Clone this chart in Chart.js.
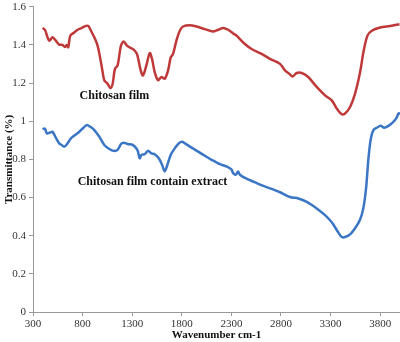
<!DOCTYPE html>
<html>
<head>
<meta charset="utf-8">
<script src="https://cdn.jsdelivr.net/npm/chart.js@4"></script>
<style>
  html, body { margin: 0; padding: 0; background: #fff; }
  #wrap { width: 400px; height: 342px; }
</style>
</head>
<body>
<div id="wrap"><canvas id="ftirChart" width="400" height="342"></canvas></div>
<script>
// Tick labels
const xTicks = [300, 800, 1300, 1800, 2300, 2800, 3300, 3800];
const yTicks = [0, 0.2, 0.4, 0.6, 0.8, 1, 1.2, 1.4, 1.6];

// Chitosan film (red)
const filmWave = [396, 420, 463, 497, 530, 565, 598, 621, 641, 655, 676, 716, 750, 790, 833, 857, 884, 918, 951, 979,
  1002, 1019, 1052, 1080, 1103, 1126, 1153, 1187, 1214, 1247, 1272, 1315, 1348, 1386, 1409, 1443, 1477, 1500, 1527, 1561,
  1595, 1628, 1662, 1689, 1712, 1746, 1780, 1813, 1881, 1948, 2032, 2116, 2167, 2217, 2267, 2328, 2352, 2436, 2504, 2605,
  2689, 2790, 2840, 2884, 2918, 2958, 3009, 3075, 3160, 3244, 3312, 3362, 3413, 3446, 3497, 3547, 3598, 3631, 3672, 3716,
  3800, 3901, 3995];
const filmT = [1.489, 1.48, 1.423, 1.44, 1.423, 1.402, 1.40, 1.39, 1.40, 1.388, 1.449, 1.466, 1.48, 1.489, 1.50, 1.50, 1.475, 1.44, 1.397, 1.327,
  1.258, 1.215, 1.197, 1.174, 1.197, 1.275, 1.293, 1.397, 1.418, 1.397, 1.388, 1.376, 1.353, 1.267, 1.24, 1.293, 1.358, 1.327, 1.258, 1.215,
  1.232, 1.223, 1.267, 1.336, 1.353, 1.423, 1.475, 1.497, 1.504, 1.497, 1.483, 1.471, 1.48, 1.489, 1.48, 1.457, 1.449, 1.405, 1.379, 1.353,
  1.327, 1.301, 1.267, 1.249, 1.235, 1.253, 1.253, 1.232, 1.18, 1.136, 1.11, 1.067, 1.037, 1.041, 1.075, 1.145, 1.258, 1.362, 1.449, 1.475,
  1.492, 1.50, 1.509];

// Chitosan film contain extract (blue)
const extractWave = [396, 420, 440, 474, 497, 530, 565, 588, 615, 648, 682, 732, 767, 800, 843, 878, 918, 969, 1019, 1070,
  1113, 1153, 1187, 1214, 1254, 1305, 1352, 1376, 1393, 1426, 1460, 1494, 1527, 1568, 1601, 1628, 1655, 1689, 1729, 1770,
  1803, 1847, 1898, 1965, 2032, 2100, 2184, 2251, 2302, 2318, 2345, 2368, 2386, 2453, 2554, 2655, 2790, 2891, 2975, 3060,
  3160, 3244, 3288, 3328, 3379, 3413, 3446, 3497, 3547, 3598, 3631, 3658, 3682, 3706, 3732, 3766, 3806, 3840, 3884, 3928,
  3962, 3985, 4000];
const extractT = [0.959, 0.962, 0.936, 0.942, 0.945, 0.914, 0.884, 0.876, 0.867, 0.884, 0.91, 0.931, 0.945, 0.962, 0.98, 0.971, 0.954, 0.919, 0.876, 0.855,
  0.845, 0.85, 0.881, 0.888, 0.881, 0.876, 0.85, 0.806, 0.824, 0.827, 0.845, 0.832, 0.827, 0.806, 0.772, 0.737, 0.772, 0.824, 0.858, 0.884,
  0.893, 0.879, 0.862, 0.841, 0.819, 0.798, 0.775, 0.763, 0.746, 0.728, 0.72, 0.737, 0.72, 0.699, 0.676, 0.655, 0.628, 0.603, 0.595, 0.577,
  0.543, 0.508, 0.485, 0.459, 0.416, 0.393, 0.393, 0.407, 0.439, 0.485, 0.546, 0.65, 0.806, 0.91, 0.954, 0.966, 0.976, 0.966, 0.976, 0.994,
  1.015, 1.041, 1.041];

function toPoints(xs, ys) {
    return xs.map((x, i) => ({ x: x, y: ys[i] }));
}

const serif = '"Liberation Serif", "Times New Roman", serif';

// Curve labels, placed in data units
const curveLabels = [
    { text: 'Chitosan film', x: 770, y: 1.133 },
    { text: 'Chitosan film contain extract', x: 750, y: 0.68 }
];

const labelPlugin = {
    id: 'curveLabels',
    afterDatasetsDraw(chart) {
        const c = chart.ctx;
        const xs = chart.scales.x, ys = chart.scales.y;
        c.save();
        c.font = 'bold 12px ' + serif;
        c.fillStyle = '#111';
        c.textBaseline = 'middle';
        curveLabels.forEach(l => {
            c.fillText(l.text, xs.getPixelForValue(l.x), ys.getPixelForValue(l.y));
        });
        c.restore();
    }
};

new Chart(document.getElementById('ftirChart'), {
    type: 'scatter',
    data: {
        datasets: [
            {
                label: 'Chitosan film',
                data: toPoints(filmWave, filmT),
                showLine: true,
                borderColor: '#C0393A',
                borderWidth: 2.5,
                pointRadius: 0,
                tension: 0.3
            },
            {
                label: 'Chitosan film contain extract',
                data: toPoints(extractWave, extractT),
                showLine: true,
                borderColor: '#3A76C4',
                borderWidth: 2.5,
                pointRadius: 0,
                tension: 0.3
            }
        ]
    },
    options: {
        responsive: false,
        animation: false,
        layout: { padding: { top: 4, right: 0, left: 0, bottom: 0 } },
        plugins: {
            legend: { display: false },
            tooltip: { enabled: false }
        },
        scales: {
            x: {
                type: 'linear',
                min: 300,
                max: 4000,
                afterBuildTicks: (s) => { s.ticks = xTicks.map(v => ({ value: v })); },
                afterFit: (s) => { s.height = 30; },
                grid: { display: true, drawOnChartArea: false, tickLength: 4, color: '#999' },
                border: { color: '#999' },
                ticks: {
                    color: '#333',
                    font: { family: serif, size: 11 },
                    padding: 2,
                    maxRotation: 0,
                    callback: (v) => String(v)
                },
                title: {
                    display: true,
                    text: 'Wavenumber cm-1',
                    color: '#111',
                    font: { family: serif, size: 11, weight: 'bold' },
                    padding: { top: 0, bottom: 0 }
                }
            },
            y: {
                min: 0,
                max: 1.6,
                afterBuildTicks: (s) => { s.ticks = yTicks.map(v => ({ value: v })); },
                afterFit: (s) => { s.width = 33; },
                grid: { display: true, drawOnChartArea: false, tickLength: 4, color: '#999' },
                border: { color: '#999' },
                ticks: {
                    color: '#333',
                    font: { family: serif, size: 11, lineHeight: 0.7 },
                    padding: 3,
                    callback: (v) => String(v)
                },
                title: {
                    display: true,
                    text: 'Transmittance (%)',
                    color: '#111',
                    font: { family: serif, size: 11, weight: 'bold' },
                    padding: { top: 3, bottom: 0 }
                }
            }
        }
    },
    plugins: [labelPlugin]
});
</script>
</body>
</html>
